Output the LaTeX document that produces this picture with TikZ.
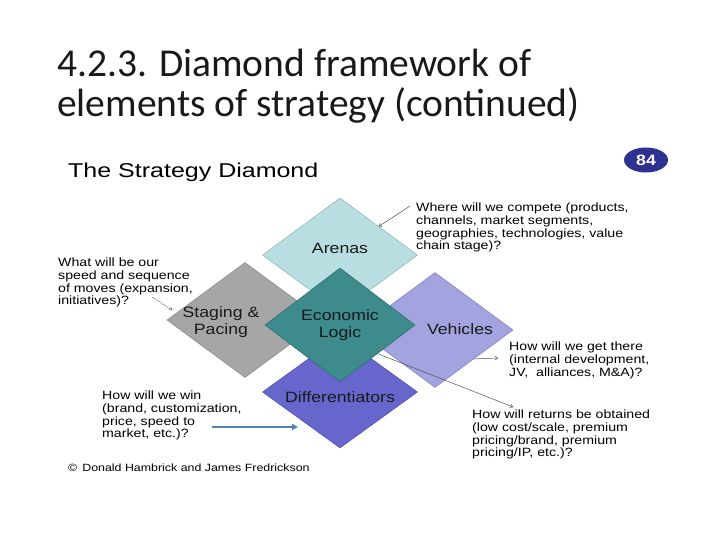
\documentclass[tikz,border=0pt]{standalone}
\usepackage{fontspec}
\setmainfont{Liberation Sans}[FakeStretch=1.18]
\newfontfamily\titlefont{Carlito}
\newfontfamily\headfont{Liberation Sans}[FakeStretch=1.25]
\usetikzlibrary{shapes.geometric,arrows.meta}
\definecolor{arenasC}{HTML}{B9DEE2}
\definecolor{arenasD}{HTML}{8FB8BD}
\definecolor{stageC}{HTML}{A6A6A6}
\definecolor{stageD}{HTML}{8C8C8C}
\definecolor{econC}{HTML}{3D8B8C}
\definecolor{econD}{HTML}{2E7070}
\definecolor{vehC}{HTML}{A3A3DF}
\definecolor{vehD}{HTML}{8585C5}
\definecolor{diffC}{HTML}{6666CC}
\definecolor{diffD}{HTML}{5252B0}
\definecolor{badgeC}{HTML}{2E3190}
\definecolor{arrowblue}{HTML}{4F81BD}
\definecolor{pointer}{HTML}{505050}
\begin{document}
\begin{tikzpicture}[x=1pt,y=-1pt,
  dia/.style={diamond, inner sep=0pt, line width=0.6pt},
  lbl/.style={font=\fontsize{15}{17}\selectfont, align=center, inner sep=0pt, text=black!90},
  note/.style={font=\fontsize{12}{12.7}\selectfont, align=left, anchor=north west, inner sep=0pt, text=black},
  ptr/.style={draw=pointer, line width=0.5pt, -{To[length=3pt,width=4pt]}},
  ttl/.style={anchor=base west, inner sep=0pt, text=black!90, font=\titlefont\fontsize{39.5}{42}\selectfont}
]
\useasboundingbox (0,0) rectangle (720,540);
\fill[white] (0,0) rectangle (720,540);
% title
\node[ttl] (t1) at (57,77) {4.2.3. Diamond framework of};
\node[ttl] (t2) at (57,117) {elements of strategy (continued)};
\node[anchor=base west, inner sep=0pt, font=\headfont\fontsize{20}{22}\selectfont] (head) at (68,178) {The Strategy Diamond};
% badge
\node[ellipse, fill=badgeC, minimum width=44pt, minimum height=25pt, inner sep=0pt, text=white, font=\bfseries\fontsize{15}{15}\selectfont] (badge) at (646,160) {84};
% diamonds
\node[dia, fill=arenasC, draw=arenasD, minimum width=155pt, minimum height=114pt] (arenas) at (340,255) {};
\node[dia, fill=stageC, draw=stageD, minimum width=156pt, minimum height=115pt] (stage) at (245,320) {};
\node[dia, fill=vehC, draw=vehD, minimum width=156pt, minimum height=115pt] (veh) at (435,330) {};
\node[dia, fill=diffC, draw=diffD, minimum width=155pt, minimum height=112pt] (diff) at (340,392) {};
\node[dia, fill=econC, draw=econD, minimum width=150pt, minimum height=114pt] (econ) at (340,325) {};
% labels
\node[lbl] (larenas) at (340,248) {Arenas};
\node[lbl] (lstage) at (221,322) {Staging \&\\Pacing};
\node[lbl] (lecon) at (340,325) {Economic\\Logic};
\node[lbl] (lveh) at (460,329) {Vehicles};
\node[lbl] (ldiff) at (340,397) {Differentiators};
% annotations
\node[note] (qarenas) at (416,203) {Where will we compete (products,\\channels, market segments,\\geographies, technologies, value\\chain stage)?};
\node[note] (qstage) at (58,258) {What will be our\\speed and sequence\\of moves (expansion,\\initiatives)?};
\node[note] (qveh) at (509,342) {How will we get there\\(internal development,\\JV,\ \ alliances, M\&A)?};
\node[note] (qecon) at (472,410) {How will returns be obtained\\(low cost/scale, premium\\pricing/brand, premium\\pricing/IP, etc.)?};
\node[note] (qdiff) at (102,391) {How will we win\\(brand, customization,\\price, speed to\\market, etc.)?};
\node[anchor=base west, inner sep=0pt, font=\fontsize{10.5}{12}\selectfont] (copy) at (68,471) {©\hspace{5pt}Donald Hambrick and James Fredrickson};
% pointers
\coordinate (p1) at (410,206);
\coordinate (p2s) at (152,297);
\coordinate (p2e) at (172,310);
\coordinate (p3) at (498,358);
\coordinate (p4) at (513,407);
\coordinate (p5s) at (212,427);
\coordinate (p5e) at (298,427);
\draw[ptr] (p1) -- (arenas.north east);
\draw[ptr, dash pattern=on 1.5pt off 1pt] (p2s) -- (p2e);
\draw[ptr] (veh.south east) -- (p3);
\draw[ptr] (econ.south east) -- (p4);
\draw[draw=arrowblue, line width=1.8pt, -{Triangle[length=6pt,width=6pt]}] (p5s) -- (p5e);
\end{tikzpicture}
\end{document}
